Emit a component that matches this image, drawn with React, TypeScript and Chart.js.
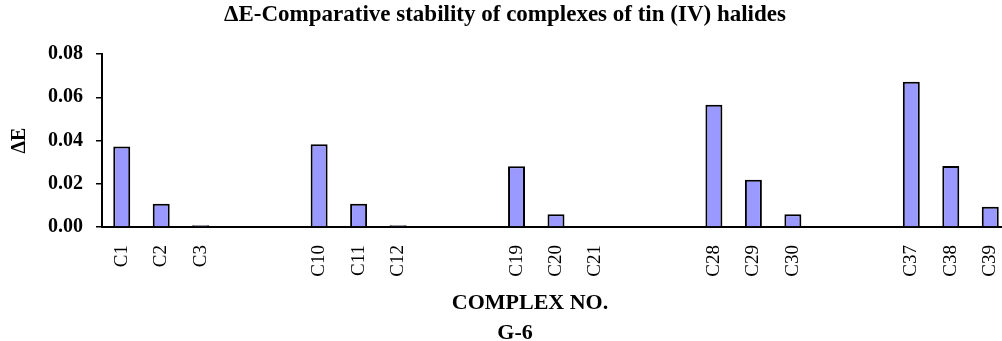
import React, { useEffect, useRef } from "react";
import { Chart, registerables } from "chart.js";

Chart.register(...registerables);

const categories = [
  "C1", "C2", "C3", "", "",
  "C10", "C11", "C12", "", "",
  "C19", "C20", "C21", "", "",
  "C28", "C29", "C30", "", "",
  "C37", "C38", "C39",
];

const deltaE: (number | null)[] = [
  0.0372, 0.0108, 0.0008, null, null,
  0.0383, 0.0108, 0.0008, null, null,
  0.0281, 0.0059, 0, null, null,
  0.0565, 0.0218, 0.0059, null, null,
  0.0672, 0.0282, 0.0094,
];

const yTicks = [0, 0.02, 0.04, 0.06, 0.08];

const TITLE = "ΔE-Comparative stability of complexes of tin (IV) halides";
const Y_TITLE = "ΔE";
const X_TITLE = "COMPLEX NO.";
const SUB_TITLE = "G-6";

const FONT = '"Liberation Serif", "Times New Roman", serif';

const bottomTitles = {
  id: "bottomTitles",
  afterDraw(chart: any) {
    const ctx = chart.ctx;
    ctx.save();
    ctx.font = `bold 22px ${FONT}`;
    ctx.fillStyle = "#000";
    ctx.textAlign = "center";
    ctx.textBaseline = "alphabetic";
    ctx.fillText(X_TITLE, 530, 309);
    ctx.fillText(SUB_TITLE, 515, 339);
    ctx.restore();
  },
};

export default function App() {
  const canvasRef = useRef<HTMLCanvasElement | null>(null);

  useEffect(() => {
    if (!canvasRef.current) return;
    Chart.defaults.color = "#000";
    const chart = new Chart(canvasRef.current, {
      type: "bar",
      data: {
        labels: categories,
        datasets: [
          {
            label: "ΔE",
            data: deltaE,
            backgroundColor: "#9999FF",
            borderColor: "#000",
            borderWidth: 2,
            categoryPercentage: 1,
            barPercentage: 0.43,
          },
        ],
      },
      options: {
        animation: false,
        responsive: false,
        layout: { padding: { left: 0, right: 0, top: 0, bottom: 0 } },
        plugins: {
          legend: { display: false },
          tooltip: { enabled: false },
          title: {
            display: true,
            text: TITLE,
            color: "#000",
            font: { family: FONT, size: 23, weight: "bold", lineHeight: 1 },
            padding: { top: 4, bottom: 27 },
          },
        },
        scales: {
          x: {
            grid: { display: false, drawTicks: false },
            border: { display: true, color: "#000", width: 2 },
            ticks: {
              autoSkip: false,
              maxRotation: 90,
              minRotation: 90,
              padding: 18,
              color: "#000",
              font: { family: FONT, size: 19 },
            },
            afterFit(scale: any) {
              scale.height = 114;
              scale.paddingLeft = 0;
              scale.paddingRight = 0;
            },
          },
          y: {
            min: 0,
            max: 0.08,
            afterBuildTicks(scale: any) {
              scale.ticks = yTicks.map((v) => ({ value: v }));
            },
            grid: {
              display: true,
              drawOnChartArea: false,
              drawTicks: true,
              tickLength: 6,
              color: "#000",
              lineWidth: 1.5,
            },
            border: { display: true, color: "#000", width: 2 },
            ticks: {
              padding: 13,
              color: "#000",
              font: { family: FONT, size: 20, weight: "bold" },
              callback: (v: any) => Number(v).toFixed(2),
            },
            title: {
              display: true,
              text: Y_TITLE,
              color: "#000",
              font: { family: FONT, size: 20, weight: "bold" },
              padding: { top: 8, bottom: 0 },
            },
            afterFit(scale: any) {
              scale.width = 102;
            },
          },
        },
      },
      plugins: [bottomTitles],
    });
    return () => chart.destroy();
  }, []);

  return (
    <div
      style={{
        position: "absolute",
        left: 0,
        top: 0,
        width: 1002,
        height: 341,
        overflow: "hidden",
        background: "#fff",
      }}
    >
      <canvas ref={canvasRef} width={1010} height={341} style={{ display: "block" }} />
    </div>
  );
}
